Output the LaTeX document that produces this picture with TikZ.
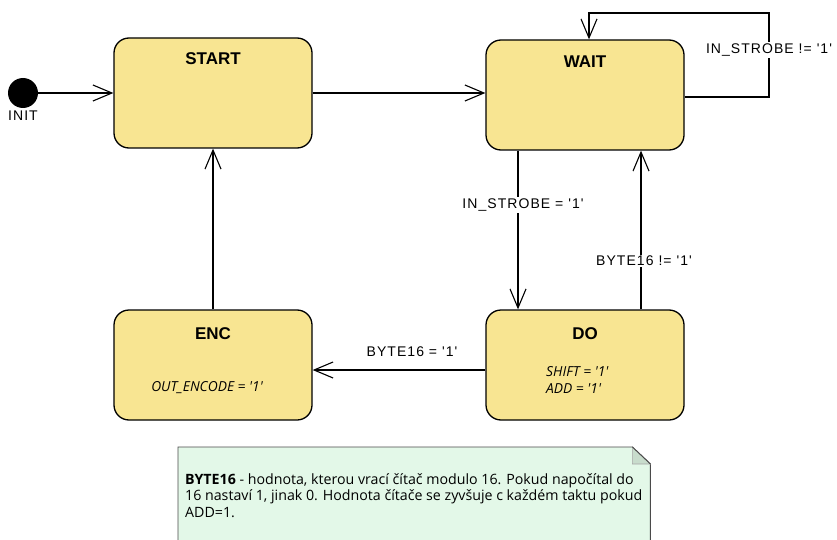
\documentclass[tikz,border=0pt]{standalone}
\usepackage{fontspec}
\setmainfont{Liberation Sans}
\newfontfamily\lblfont[LetterSpace=7.5,Ligatures=TeXOff]{Liberation Sans}
\newfontfamily\actfont[Ligatures=TeXOff]{Open Sans}
\newfontfamily\notefont{Open Sans}
\usetikzlibrary{arrows.meta}
\definecolor{statefill}{HTML}{F8E592}
\definecolor{notefill}{HTML}{E3F8E8}
\definecolor{foldfill}{HTML}{C8DCCC}
\definecolor{noteedge}{HTML}{4A4A4A}
\begin{document}
\begin{tikzpicture}[x=1pt,y=-1pt,
  state/.style={draw=black, line width=1.3pt, fill=statefill, rounded corners=15pt,
    minimum width=198pt, minimum height=110pt, inner sep=0pt},
  title/.style={font=\fontsize{17}{18}\selectfont\bfseries, inner sep=0pt},
  act/.style={font=\actfont\fontsize{13.8}{17}\selectfont\itshape, inner sep=0pt},
  arr/.style={line width=1.1pt, -{Straight Barb[length=19pt,width=16pt,line width=1.1pt]}},
  lbl/.style={font=\lblfont\fontsize{14}{16}\selectfont, inner sep=1.5pt},
  notetext/.style={font=\notefont\fontsize{14.2}{16.5}\selectfont, inner sep=0pt, anchor=base west},
]
\useasboundingbox (0,0) rectangle (837,540);
\clip (0,0) rectangle (837,540);

% initial pseudo-state
\node[circle, fill=black, minimum size=30pt, inner sep=0pt] (init) at (23,93) {};
\node[lbl] (init-l) at (23,116) {INIT};

% states
\node[state] (start) at (213,93) {};
\node[title] (start-t) at (213,59) {START};

\node[state] (wait) at (585,95) {};
\node[title] (wait-t) at (585,62) {WAIT};

\node[state] (do) at (585,365) {};
\node[title] (do-t) at (585,334) {DO};
\node[act, anchor=base west] (do-a1) at (546,376) {SHIFT = '1'};
\node[act, anchor=base west] (do-a2) at (546,393) {ADD = '1'};

\node[state] (enc) at (213,365) {};
\node[title] (enc-t) at (213,334) {ENC};
\node[act, anchor=base] (enc-a) at (207,391) {OUT\_ENCODE = '1'};

% transitions
\draw[arr] (init) -- (start);
\draw[arr] (start.east) -- (start.east -| wait.west);
\coordinate (loop) at (769,13);
\draw[arr] ([yshift=-2pt]wait.east) -| (loop) -| ([xshift=4pt]wait.north);
\draw[arr] ([xshift=-67pt]wait.south) -- ([xshift=-67pt]do.north);
\draw[arr] ([xshift=56pt]do.north) -- ([xshift=56pt]wait.south);
\draw[arr] ([yshift=-5pt]do.west) -- ([yshift=-5pt]enc.east);
\draw[arr] (enc.north) -- (start.south);

% guards
\node[lbl, fill=white] (g-loop) at (769,50) {IN\_STROBE != '1'};
\node[lbl, fill=white] (g-in) at (523,205) {IN\_STROBE = '1'};
\node[lbl, fill=white] (g-back) at (644,261) {BYTE16 != '1'};
\node[lbl] (g-enc) at (412,352) {BYTE16 = '1'};

% note
\node[minimum width=472pt, minimum height=100pt, inner sep=0pt, anchor=north west] (note) at (178,447) {};
\draw[noteedge, line width=0.9pt, fill=notefill]
  (note.north west) -- ([xshift=-18pt]note.north east) -- ([yshift=-17pt]note.north east)
  -- (note.south east) -- (note.south west) -- cycle;
\draw[gray!70, line width=0.6pt, fill=foldfill]
  ([xshift=-18pt]note.north east) -- ([xshift=-18pt,yshift=-17pt]note.north east)
  -- ([yshift=-17pt]note.north east) -- cycle;
\draw[noteedge, line width=0.9pt] ([xshift=-18pt]note.north east) -- ([yshift=-17pt]note.north east);
\node[notetext] (note-1) at (185,484)
  {\textbf{BYTE16} - hodnota, kterou vrací čítač modulo 16. Pokud napočítal do};
\node[notetext] (note-2) at (185,500.5)
  {16 nastaví 1, jinak 0. Hodnota čítače se zyvšuje c každém taktu pokud};
\node[notetext] (note-3) at (185,517) {ADD=1.};
\end{tikzpicture}
\end{document}
